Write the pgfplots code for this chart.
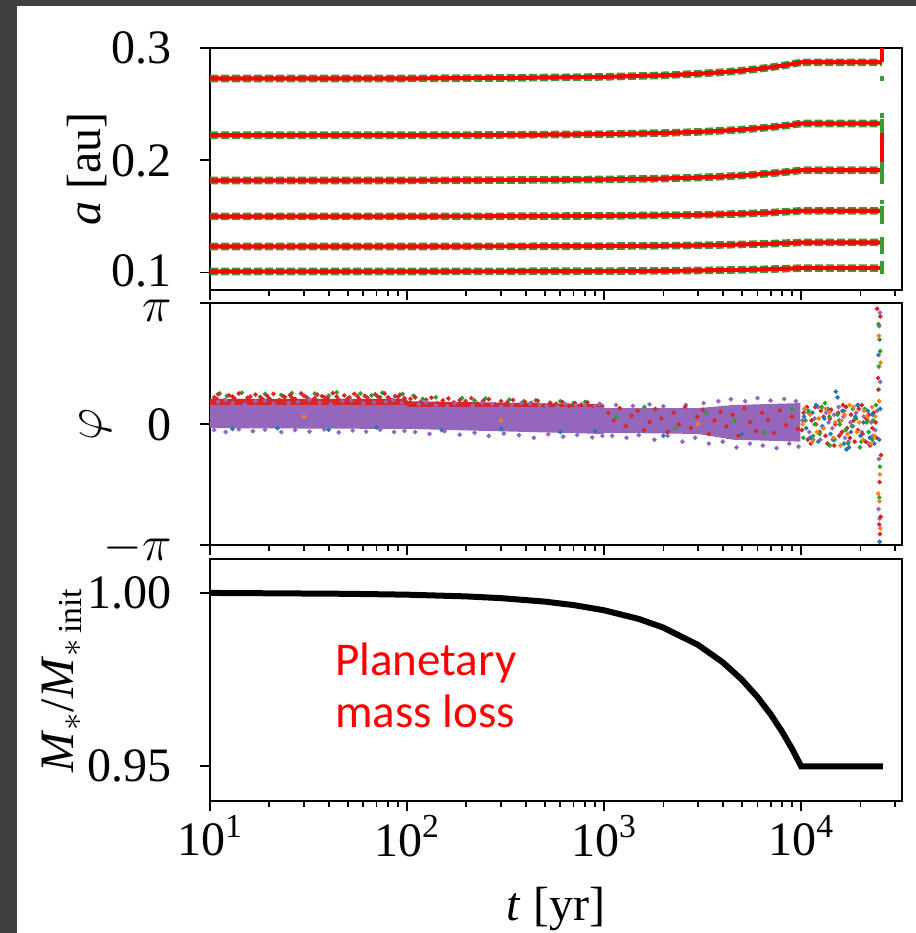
\documentclass[border=0pt]{standalone}
\usepackage{fontspec}
\setmainfont{Liberation Serif}
\newfontfamily\calibri{Carlito}
\usepackage{pgfplots}
\usepackage{pgfplotstable}
\pgfplotsset{compat=1.18}

\definecolor{framegray}{RGB}{64,64,64}
\definecolor{tblue}{HTML}{1F77B4}
\definecolor{torange}{HTML}{FF7F0E}
\definecolor{tgreen}{HTML}{2CA02C}
\definecolor{tred}{HTML}{D62728}
\definecolor{tpurple}{HTML}{9467BD}
\definecolor{lgreen}{HTML}{3A9A3A}
\definecolor{lred}{HTML}{FF0000}

\tikzset{
  gline/.style={lgreen, line width=3.8pt, dash pattern=on 4pt off 1.5pt},
  rline/.style={lred, line width=2.1pt},
}

\pgfplotstableread{
t a1 a2 a3 a4 a5 a6
10 0.2731 0.2224 0.1821 0.1500 0.1232 0.1009
100 0.2731 0.2224 0.1821 0.1500 0.1232 0.1009
300 0.2735 0.2227 0.1824 0.1501 0.1233 0.1010
1000 0.2745 0.2234 0.1830 0.1505 0.1235 0.1012
2000 0.2759 0.2244 0.1838 0.1510 0.1239 0.1015
3000 0.2773 0.2254 0.1847 0.1514 0.1242 0.1018
4000 0.2787 0.2265 0.1856 0.1519 0.1246 0.1021
5000 0.2801 0.2275 0.1865 0.1524 0.1250 0.1024
6000 0.2816 0.2286 0.1875 0.1529 0.1253 0.1027
7000 0.2830 0.2296 0.1884 0.1534 0.1257 0.1030
8000 0.2845 0.2307 0.1893 0.1540 0.1261 0.1033
9000 0.2860 0.2318 0.1902 0.1545 0.1264 0.1036
10000 0.2875 0.2329 0.1912 0.1550 0.1268 0.1039
25700 0.2875 0.2329 0.1912 0.1550 0.1268 0.1039
}\semimajor

\pgfplotstableread{
t M
10 1.0
20 0.9999
50 0.99975
100 0.9995
200 0.999
300 0.9985
500 0.9975
700 0.9965
1000 0.995
1500 0.9925
2000 0.99
3000 0.985
4000 0.98
5000 0.975
6000 0.97
7000 0.965
8000 0.96
9000 0.955
10000 0.95
26000 0.95
}\mass

\begin{document}
\begin{tikzpicture}
\useasboundingbox (0pt,0pt) rectangle (458pt,-466.5pt);
\fill[framegray] (0pt,0pt) rectangle (458pt,-466.5pt);
\fill[white] (8.5pt,-3pt) rectangle (458pt,-466.5pt);

% ---------------- panel 1 ----------------
\begin{semilogxaxis}[
  at={(105pt,-24.15pt)}, anchor=north west,
  scale only axis, width=346pt, height=121pt,
  xmin=10, xmax=32500,
  axis line style={line width=0.9pt},
  tick align=outside, xtick pos=left, ytick pos=left,
  major tick length=5pt, minor tick length=2.6pt,
  tick style={black, line width=0.9pt},
  xtick={10,100,1000,10000},
  minor xtick={20,30,40,50,60,70,80,90,200,300,400,500,600,700,800,900,2000,3000,4000,5000,6000,7000,8000,9000,20000,30000},
  tick label style={font=\fontsize{24}{28}\selectfont},
  label style={font=\fontsize{24}{28}\selectfont},
  yticklabel style={inner sep=0pt, xshift=-14pt},
  /pgf/number format/assume math mode=true,
  ymin=0.0841, ymax=0.3, ytick={0.1,0.2,0.3},
  yticklabels={\raisebox{1pt}[\height][\depth]{0.1},0.2,0.3},
  xticklabels={},
  ylabel={\textit{a} [au]},
  ylabel style={at={(axis description cs:-0.178,0.5)}, anchor=center},
]
\addplot[gline] table[x=t, y=a1] {\semimajor};
\addplot[gline] table[x=t, y=a2] {\semimajor};
\addplot[gline] table[x=t, y=a3] {\semimajor};
\addplot[gline] table[x=t, y=a4] {\semimajor};
\addplot[gline] table[x=t, y=a5] {\semimajor};
\addplot[gline] table[x=t, y=a6] {\semimajor};
\addplot[only marks, mark=square*, mark size=0.9pt, color=lgreen] coordinates {
(25700,0.2734) (25700,0.2270) (25700,0.2310) (25700,0.2350) (25700,0.2400)
(25700,0.1810) (25700,0.1850) (25700,0.1890) (25700,0.1930) (25700,0.1970)
(25700,0.1630) (25700,0.1450) (25700,0.1490) (25700,0.1530) (25700,0.1570)
(25700,0.1190) (25700,0.1230) (25700,0.1270) (25700,0.1300)
(25700,0.1010) (25700,0.1050) (25700,0.1080)
};
\addplot[rline] table[x=t, y=a1] {\semimajor};
\addplot[rline] table[x=t, y=a2] {\semimajor};
\addplot[rline] table[x=t, y=a3] {\semimajor};
\addplot[rline] table[x=t, y=a4] {\semimajor};
\addplot[rline] table[x=t, y=a5] {\semimajor};
\addplot[rline] table[x=t, y=a6] {\semimajor};
\addplot[rline] coordinates {(25700,0.2875) (25700,0.32)};
\addplot[rline] coordinates {(25700,0.2329) (25700,0.1912)};
\end{semilogxaxis}

% ---------------- panel 2 ----------------
\begin{semilogxaxis}[
  at={(105pt,-151.65pt)}, anchor=north west,
  scale only axis, width=346pt, height=121pt,
  xmin=10, xmax=32500,
  axis line style={line width=0.9pt},
  tick align=outside, xtick pos=left, ytick pos=left,
  major tick length=5pt, minor tick length=2.6pt,
  tick style={black, line width=0.9pt},
  xtick={10,100,1000,10000},
  minor xtick={20,30,40,50,60,70,80,90,200,300,400,500,600,700,800,900,2000,3000,4000,5000,6000,7000,8000,9000,20000,30000},
  tick label style={font=\fontsize{24}{28}\selectfont},
  label style={font=\fontsize{24}{28}\selectfont},
  yticklabel style={inner sep=0pt, xshift=-14pt},
  /pgf/number format/assume math mode=true,
  ymin=-3.14159265, ymax=3.14159265,
  ytick={-3.14159265,0,3.14159265},
  yticklabels={\raisebox{-1.5pt}[\height][\depth]{$-\pi$},0,\raisebox{-3.5pt}[\height][\depth]{$\pi$}},
  xticklabels={},
  ylabel={$\varphi$},
  ylabel style={at={(axis description cs:-0.166,0.5)}, anchor=center},
  mark size=0.95pt,
]
\addplot[only marks, mark=*, tblue] coordinates {
(13,-0.12) (22,-0.10) (40,-0.14) (70,-0.08) (150,-0.15) (300,-0.12) (600,-0.20) (900,-0.18)
(2000,-0.30) (5000,-0.25)
};
\addplot[only marks, mark=*, torange] coordinates {
(30,0.2) (300,0.1) (3000,0.0)
};
% dense red layer
\addplot[fill=tred, draw=none] coordinates {
(10,0.66) (99,0.66) (101,0.60) (999,0.52)
(999,0.30) (101,0.35) (99,0.38) (10,0.38)
} -- cycle;
\addplot[only marks, mark=*, tgreen] coordinates {
(11.2,0.80) (14.5,0.82) (19,0.79) (26,0.81) (34,0.80) (44,0.83) (58,0.80) (75,0.82) (95,0.79)
(108,0.74) (140,0.70) (190,0.68) (250,0.67) (330,0.64) (450,0.62) (600,0.60) (800,0.58)
(12.2,0.74) (23,0.76) (40,0.74) (66,0.75) (120,0.66) (220,0.62) (390,0.60) (700,0.55)
};
\addplot[only marks, mark=*, tred] coordinates {
(10.5,0.70) (11,0.78) (11.8,0.62) (12.5,0.75) (13.3,0.68) (14,0.80) (15,0.60) (16,0.72)
(17,0.77) (18.5,0.65) (19.5,0.74) (21,0.79) (22.5,0.63) (24,0.71) (25.5,0.76) (27,0.66)
(29,0.80) (31,0.70) (33,0.62) (35,0.77) (37,0.73) (39.5,0.68) (42,0.81) (45,0.64)
(48,0.75) (51,0.70) (54,0.79) (57,0.66) (61,0.74) (65,0.61) (69,0.78) (73,0.70)
(77,0.80) (82,0.65) (87,0.73) (92,0.77) (97,0.68)
(10.8,0.66) (13,0.72) (15.5,0.69) (18,0.71) (20,0.67) (23.5,0.73) (26,0.69) (30,0.74)
(34,0.68) (38,0.71) (44,0.72) (50,0.67) (56,0.73) (63,0.69) (71,0.72) (80,0.70) (90,0.71)
(104,0.66) (110,0.70) (117,0.58) (125,0.64) (133,0.69) (142,0.55) (152,0.62) (162,0.67)
(173,0.57) (185,0.63) (198,0.60) (212,0.68) (227,0.54) (243,0.61) (260,0.65) (280,0.52)
(300,0.60) (322,0.57) (345,0.63) (370,0.50) (398,0.58) (428,0.55) (460,0.61) (495,0.49)
(532,0.56) (572,0.53) (615,0.58) (662,0.48) (712,0.55) (766,0.51) (824,0.57) (886,0.47) (950,0.52)
};
% purple dense core
\addplot[fill=tpurple, draw=none] coordinates {
(10,0.50) (99,0.50) (101,0.45) (999,0.45) (1001,0.42) (3000,0.42) (4500,0.50) (9900,0.55)
(9900,-0.45) (4500,-0.40) (3000,-0.25) (1001,-0.22) (999,-0.25) (101,-0.12) (99,-0.12) (10,-0.10)
} -- cycle;
\addplot[only marks, mark=*, tpurple] coordinates {
(10.5,-0.15) (12,-0.20) (14,-0.13) (16.5,-0.18) (19,-0.14) (23,-0.20) (27,-0.15) (32,-0.19)
(38,-0.13) (45,-0.21) (53,-0.16) (62,-0.19) (73,-0.14) (86,-0.20) (97,-0.17)
(110,-0.20) (130,-0.25) (155,-0.18) (185,-0.27) (220,-0.22) (260,-0.30) (310,-0.24) (370,-0.28)
(440,-0.35) (520,-0.26) (620,-0.32) (730,-0.28) (870,-0.34) (980,-0.30)
(1100,-0.30) (1300,-0.35) (1500,-0.28) (1800,-0.40) (2100,-0.30) (2500,-0.45) (2900,-0.35)
(3400,-0.50) (4000,-0.45) (4700,-0.60) (5500,-0.50) (6400,-0.55) (7500,-0.62) (8700,-0.50) (9700,-0.58)
(11,0.58) (13,0.55) (17,0.60) (21,0.54) (28,0.58) (36,0.56) (47,0.60) (60,0.55) (78,0.58) (94,0.56)
(12,0.63) (15,0.52) (19,0.62) (25,0.55) (32,0.64) (41,0.53) (52,0.62) (68,0.57) (85,0.63)
(115,0.52) (140,0.50) (175,0.55) (215,0.49) (270,0.53) (340,0.50) (420,0.54) (510,0.48) (640,0.52)
(125,0.57) (160,0.48) (240,0.56) (300,0.47) (380,0.55) (470,0.51) (580,0.46) (720,0.50) (900,0.48)
(800,0.50) (950,0.53) (1150,0.50) (1400,0.48) (1700,0.52) (2000,0.47) (2600,0.50) (3200,0.55)
(3800,0.60) (4400,0.65) (5200,0.60) (6000,0.68) (7000,0.62) (8200,0.66) (9400,0.60)
(10400,0.40) (11000,-0.20) (11700,0.15) (12500,-0.40) (13400,0.30) (14400,-0.10) (15500,0.45)
(16700,-0.35) (17800,0.05) (19000,0.30) (20300,-0.20) (21700,0.10) (23100,-0.30) (24300,0.35)
(10150,0.10) (10900,0.30) (11500,-0.40) (12200,0.45) (12900,-0.10) (13800,0.05) (14700,0.25)
(15900,-0.25) (16400,0.20) (17400,-0.45) (18300,-0.05) (19500,0.50) (20800,0.20) (22000,-0.50)
(22700,0.05) (23800,-0.15)
(25100,2.90) (24900,2.55) (25200,1.10) (24700,-2.20) (25000,-2.45) (24800,-0.90)
};
\addplot[only marks, mark=*, tred] coordinates {
(1050,0.30) (1120,0.10) (1200,0.42) (1290,-0.05) (1380,0.22) (1480,0.35) (1590,-0.15) (1700,0.05)
(1820,0.40) (1950,0.15) (2100,-0.20) (2250,0.30) (2400,0.00) (2580,0.45) (2760,-0.10) (2960,0.20)
(3170,0.38) (3400,-0.25) (3640,0.10) (3900,0.33) (4180,-0.05) (4480,0.25) (4800,-0.30) (5150,0.42)
(5520,0.05) (5910,-0.18) (6340,0.30) (6790,0.12) (7280,-0.22) (7800,0.36) (8360,-0.02) (8960,0.20) (9600,-0.12)
(10300,0.30) (10800,-0.40) (11300,0.10) (11800,0.45) (12400,-0.20) (13000,0.20) (13600,-0.50)
(14200,0.38) (14900,0.00) (15600,-0.30) (16300,0.50) (17100,-0.10) (17900,0.25) (18700,-0.45)
(19600,0.40) (20500,-0.25) (21400,0.15) (22400,-0.55) (23300,0.30) (24200,-0.35)
(10100,-0.15) (10700,0.45) (11200,-0.50) (11900,0.00) (12600,0.35) (13300,-0.30) (14000,0.15)
(14700,-0.55) (15400,0.30) (16100,-0.20) (16900,0.45) (17700,-0.35) (18500,0.10) (19400,-0.15)
(20300,0.50) (21200,-0.45) (22100,0.25) (23000,-0.10) (23900,0.05)
(24300,3.00) (25200,2.80) (24600,1.20) (25000,-1.50) (25300,-2.40) (24900,-2.60) (25100,-2.85)
(24700,0.90) (25400,-0.80)
};
\addplot[only marks, mark=*, tgreen] coordinates {
(1150,0.20) (1600,0.45) (2300,-0.10) (3300,0.30) (4600,0.10) (6500,-0.20) (9000,0.40)
(10500,0.10) (11500,-0.30) (12700,0.45) (14000,-0.55) (15300,0.25) (16800,-0.15) (18300,0.40)
(19900,-0.60) (21500,0.05) (23000,-0.40) (24000,0.50)
(10250,-0.35) (10900,0.35) (11700,0.00) (12400,-0.25) (13200,0.55) (13900,0.20) (14800,-0.40)
(15700,0.00) (16500,0.35) (17300,-0.50) (18100,-0.05) (19000,0.15) (20200,-0.45) (21000,0.40)
(22000,-0.20) (23200,0.10)
(24700,2.60) (25000,2.20) (25200,1.90) (24800,1.50) (25100,-1.10) (24900,-1.90)
};
\addplot[only marks, mark=*, tblue] coordinates {
(10600,-0.10) (11400,0.30) (12200,-0.45) (13100,0.15) (14100,-0.25) (15000,0.85) (15300,0.70)
(16500,-0.50) (17000,-0.65) (17500,-0.60) (18800,0.20) (20000,-0.30) (21800,0.35) (23500,-0.50)
(10350,0.20) (11100,-0.35) (11900,0.50) (12800,-0.05) (13700,0.40) (14500,-0.40) (15600,0.10)
(16200,0.35) (17900,-0.20) (19300,0.50) (20700,0.05) (22300,-0.35) (23000,0.25)
(25000,-3.05) (24700,1.80) (25200,0.40) (24900,-0.40)
};
\addplot[only marks, mark=*, torange] coordinates {
(10200,0.00) (11100,0.25) (12000,-0.20) (13300,0.40) (14600,-0.35) (16000,0.10) (17600,0.50)
(19200,-0.20) (20800,0.35) (22600,-0.50) (23800,0.20)
(10500,0.40) (11400,-0.45) (12300,0.15) (13000,-0.10) (13900,0.30) (14900,0.05) (15800,-0.55)
(16600,0.25) (17200,-0.25) (18400,0.45) (19700,0.05) (20600,-0.40) (21600,0.20) (22900,0.45) (23600,-0.30)
(24800,2.30) (25300,1.60) (25100,-1.30) (24600,-1.80) (25000,-2.00) (25200,-2.70) (24900,0.60)
};
\end{semilogxaxis}

% ---------------- panel 3 ----------------
\begin{semilogxaxis}[
  at={(105pt,-279.65pt)}, anchor=north west,
  scale only axis, width=346pt, height=121pt,
  xmin=10, xmax=32500,
  axis line style={line width=0.9pt},
  tick align=outside, xtick pos=left, ytick pos=left,
  major tick length=5pt, minor tick length=2.6pt,
  tick style={black, line width=0.9pt},
  xtick={10,100,1000,10000},
  minor xtick={20,30,40,50,60,70,80,90,200,300,400,500,600,700,800,900,2000,3000,4000,5000,6000,7000,8000,9000,20000,30000},
  tick label style={font=\fontsize{24}{28}\selectfont},
  label style={font=\fontsize{24}{28}\selectfont},
  yticklabel style={inner sep=0pt, xshift=-14pt},
  xticklabel style={inner sep=0pt, yshift=-2pt},
  /pgf/number format/assume math mode=true,
  ymin=0.9399, ymax=1.0097,
  ytick={0.95,1.0}, yticklabels={0.95,1.00},
  xticklabels={10\textsuperscript{1},10\textsuperscript{2},10\textsuperscript{3},10\textsuperscript{4}},
  xlabel={\textit{t} [yr]},
  xlabel style={at={(axis description cs:0.5,-0.446)}, anchor=center},
  ylabel={\textit{M}\textsubscript{$*$}/\textit{M}\textsubscript{$*$\,init}},
  ylabel style={at={(axis description cs:-0.214,0.5)}, anchor=center},
]
\addplot[black, line width=3pt] table[x=t, y=M] {\mass};
\node[anchor=base west, inner sep=0pt, text=lred, font=\calibri\fontsize{23.5}{28}\selectfont]
  at (axis description cs:0.1806,0.5207) {Planetary};
\node[anchor=base west, inner sep=0pt, text=lred, font=\calibri\fontsize{23.5}{28}\selectfont]
  at (axis description cs:0.1806,0.306) {mass loss};
\end{semilogxaxis}
\end{tikzpicture}
\end{document}
